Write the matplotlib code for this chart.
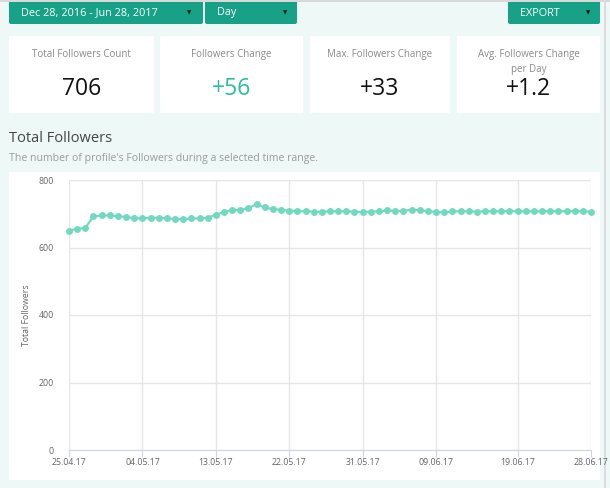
import datetime as dt
import matplotlib
matplotlib.use("Agg")
import matplotlib.pyplot as plt
import matplotlib.dates as mdates
from matplotlib.patches import FancyBboxPatch, Rectangle
from matplotlib.transforms import Affine2D

# data
start = dt.date(2017, 4, 25)
followers = [650, 655, 658, 692, 695, 695, 693, 690, 687, 686,
             688, 688, 686, 684, 684, 686, 686, 688, 697, 705,
             711, 711, 717, 728, 719, 713, 712, 709, 708, 707,
             706, 706, 707, 707, 707, 706, 705, 706, 707, 710,
             708, 709, 712, 710, 708, 705, 704, 707, 707, 707,
             706, 707, 707, 707, 708, 707, 707, 707, 707, 708,
             707, 708, 707, 707, 706]
dates = [start + dt.timedelta(days=i) for i in range(len(followers))]
tick_dates = [dt.date(2017, 4, 25), dt.date(2017, 5, 4), dt.date(2017, 5, 13),
              dt.date(2017, 5, 22), dt.date(2017, 5, 31), dt.date(2017, 6, 9),
              dt.date(2017, 6, 19), dt.date(2017, 6, 28)]
y_ticks = [0, 200, 400, 600, 800]

card_titles = ["Total Followers Count", "Followers Change",
               "Max. Followers Change", "Avg. Followers Change\nper Day"]
card_values = ["706", "+56", "+33", "+1.2"]
card_colors = ["#111111", "#2bbd9c", "#111111", "#111111"]

W, H = 610, 488
BG = "#eef9f7"
TEAL = "#17a186"
LINE = "#72d9c1"
FONT = ["Open Sans", "DejaVu Sans"]
plt.rcParams["font.family"] = FONT

fig = plt.figure(figsize=(W / 100, H / 100), dpi=100, facecolor=BG)
# pixel coords, origin top-left
px = Affine2D().scale(1 / W, -1 / H).translate(0, 1) + fig.transFigure


def box(x0, y0, x1, y1, color, r=0):
    p = FancyBboxPatch((x0, y0), x1 - x0, y1 - y0,
                       boxstyle=f"round,pad=0,rounding_size={r}",
                       transform=px, facecolor=color, edgecolor="none",
                       zorder=-5)
    fig.add_artist(p)


def txt(x, y, s, **kw):
    fig.text(x, y, s, transform=px, **kw)


# top border line
fig.add_artist(Rectangle((0, 0), W, 2, transform=px, color="#d9d9d9", lw=0))
fig.add_artist(Rectangle((604, 0), 2, H, transform=px, color="#dcdcdc", lw=0))

# buttons
for (x0, x1, label, tri) in [(9, 203, "Dec 28, 2016 - Jun 28, 2017", 189),
                             (205, 297, "Day", 285),
                             (508, 600, "EXPORT", 588)]:
    box(x0, -4, x1, 24, TEAL, r=2)
    lx = 21 if label.startswith("Dec") else (217 if label == "Day" else 520)
    txt(lx, 13, label, color="white", fontsize=7.8, va="center", ha="left")
    txt(tri, 12.5, "\u25bc", color="#1b1b1b", fontsize=4, va="center",
        ha="center", family="DejaVu Sans")

# stat cards
cards_x = [(9, 154), (160, 303), (310, 450), (457, 600)]
for (x0, x1), t, v, c in zip(cards_x, card_titles, card_values, card_colors):
    box(x0, 36, x1, 113, "white")
    cx = (x0 + x1) / 2
    txt(cx, 49, t, color="#8a8a8a", fontsize=7, ha="center", va="top",
        linespacing=1.5)
    txt(cx, 89, v, color=c, fontsize=16.5, ha="center", va="center")

# section heading
txt(9, 138, "Total Followers", color="#444444", fontsize=10.5, va="center")
txt(9, 158, "The number of profile's Followers during a selected time range.",
    color="#9a9a9a", fontsize=7.6, va="center")

# chart panel
box(9, 172, 600, 480, "white")

ax = fig.add_axes([69 / W, 1 - 450 / H, (591 - 69) / W, (450 - 180) / H])
ax.set_zorder(10)
ax.set_facecolor("white")
ax.plot(dates, followers, color=LINE, lw=1.6, marker="o", ms=5,
        markeredgewidth=0, clip_on=False, zorder=3)
ax.set_xlim(dates[0], dates[-1])
ax.set_ylim(0, 800)
ax.set_yticks(y_ticks)
ax.set_xticks(tick_dates)
ax.xaxis.set_major_formatter(mdates.DateFormatter("%d.%m.%y"))
ax.grid(True, color="#e6e6e6", lw=1)
ax.set_axisbelow(True)
for side in ["top", "right", "left"]:
    ax.spines[side].set_visible(False)
ax.spines["bottom"].set_color("#ccd6eb")
ax.tick_params(axis="y", length=0, pad=11, labelsize=6.3, labelcolor="#666666")
ax.tick_params(axis="x", length=5, color="#ccd6eb", pad=1, labelsize=6.3,
               labelcolor="#666666")
ax.set_ylabel("Total Followers", fontsize=6.3, color="#666666", labelpad=5)

fig.savefig("out.png", dpi=100, facecolor=BG)
